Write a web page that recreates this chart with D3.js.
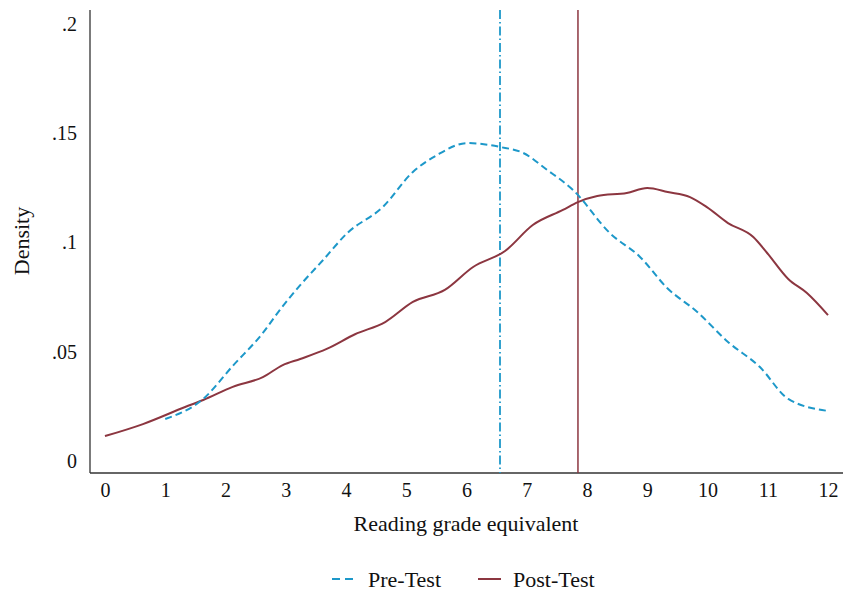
<!DOCTYPE html>
<html>
<head>
<meta charset="utf-8">
<script src="https://cdn.jsdelivr.net/npm/d3@7"></script>
<style>
  html, body { margin: 0; padding: 0; background: #fff; }
  svg { display: block; }
  svg text { font-family: "Liberation Serif", "Tinos", "Times New Roman", "Nimbus Roman", "DejaVu Serif", serif; }
</style>
</head>
<body>
<svg id="chart" width="843" height="595"></svg>
<script>
// ---- data ----
const preX = [1.00, 1.63, 2.12, 2.62, 2.90, 3.24, 3.62, 4.02, 4.61, 5.11, 5.51, 6.01, 6.56, 6.94, 7.34, 7.77, 8.38, 8.88, 9.33, 9.83, 10.34, 10.87, 11.34, 12.00];
const preY = [0.0192, 0.0284, 0.0435, 0.0586, 0.0691, 0.0805, 0.0920, 0.1043, 0.1162, 0.1323, 0.1400, 0.1455, 0.1437, 0.1410, 0.1332, 0.1240, 0.1043, 0.0934, 0.0792, 0.0682, 0.0545, 0.0430, 0.0284, 0.0229];
const postX = [0.00, 0.63, 1.33, 1.63, 2.12, 2.62, 2.95, 3.24, 3.68, 4.15, 4.65, 5.11, 5.64, 6.11, 6.64, 7.10, 7.60, 7.85, 8.17, 8.66, 9.00, 9.34, 9.71, 9.99, 10.34, 10.76, 10.99, 11.34, 11.65, 12.00];
const postY = [0.0114, 0.0169, 0.0247, 0.0279, 0.0339, 0.0384, 0.0439, 0.0467, 0.0513, 0.0580, 0.0636, 0.0728, 0.0783, 0.0888, 0.0961, 0.1080, 0.1149, 0.1185, 0.1213, 0.1227, 0.1249, 0.1231, 0.1208, 0.1162, 0.1089, 0.1025, 0.0952, 0.0833, 0.0769, 0.0668];
const preMean = 6.556;
const postMean = 7.85;
const xTicks = [0,1,2,3,4,5,6,7,8,9,10,11,12];
const yTicks = [0, 0.05, 0.1, 0.15, 0.2];
const yTickLabels = ["0", ".05", ".1", ".15", ".2"];
const seriesNames = ["Pre-Test", "Post-Test"];
const seriesColors = ["#1d98c9", "#8c3640"];

// ---- layout ----
const svg = d3.select("#chart");
const x = d3.scaleLinear().domain([0, 12]).range([105, 828]);
const y = d3.scaleLinear().domain([0, 0.2]).range([461, 24]);
const axisLeftX = 90, axisTop = 10, axisBottom = 473, axisRight = 843;

// axis lines
svg.append("line").attr("x1", axisLeftX).attr("x2", axisLeftX).attr("y1", axisTop).attr("y2", axisBottom)
  .attr("stroke", "#333").attr("stroke-width", 1.3);
svg.append("line").attr("x1", axisLeftX).attr("x2", axisRight).attr("y1", axisBottom).attr("y2", axisBottom)
  .attr("stroke", "#333").attr("stroke-width", 1.3);

// y axis
const yAxis = d3.axisLeft(y).tickValues(yTicks).tickSize(0).tickPadding(0)
  .tickFormat((d, i) => yTickLabels[i]);
const gy = svg.append("g").attr("transform", `translate(77,0)`).call(yAxis);
gy.attr("font-family", null);
gy.select(".domain").remove();
gy.selectAll("text").attr("font-size", 20).attr("fill", "#111");

// x axis
const xAxis = d3.axisBottom(x).tickValues(xTicks).tickSize(0).tickPadding(0).tickFormat(d3.format("d"));
const gx = svg.append("g").attr("transform", `translate(0,${axisBottom + 10})`).call(xAxis);
gx.attr("font-family", null);
gx.select(".domain").remove();
gx.selectAll("text").attr("font-size", 20).attr("fill", "#111");

// titles
svg.append("text").attr("x", 466).attr("y", 531).attr("text-anchor", "middle")
  .attr("font-size", 22).attr("fill", "#111").text("Reading grade equivalent");
svg.append("text").attr("transform", "translate(29,241) rotate(-90)").attr("text-anchor", "middle")
  .attr("font-size", 22).attr("fill", "#111").text("Density");

// mean lines
svg.append("line").attr("x1", x(preMean)).attr("x2", x(preMean)).attr("y1", axisTop).attr("y2", axisBottom)
  .attr("stroke", seriesColors[0]).attr("stroke-width", 1.8).attr("stroke-dasharray", "9,3,1.5,3");
svg.append("line").attr("x1", x(postMean)).attr("x2", x(postMean)).attr("y1", axisTop).attr("y2", axisBottom)
  .attr("stroke", seriesColors[1]).attr("stroke-width", 1.5);

// curves
const line = d3.line().x(d => x(d[0])).y(d => y(d[1])).curve(d3.curveMonotoneX);
const preData = preX.map((v, i) => [v, preY[i]]);
const postData = postX.map((v, i) => [v, postY[i]]);
svg.append("path").datum(postData).attr("d", line).attr("fill", "none")
  .attr("stroke", seriesColors[1]).attr("stroke-width", 2);
svg.append("path").datum(preData).attr("d", line).attr("fill", "none")
  .attr("stroke", seriesColors[0]).attr("stroke-width", 2).attr("stroke-dasharray", "7,4");

// legend
const legY = 579;
const leg = [
  {x1: 332, x2: 355, tx: 368, dash: "8,5", c: seriesColors[0], name: seriesNames[0]},
  {x1: 478, x2: 501, tx: 513, dash: null, c: seriesColors[1], name: seriesNames[1]}
];
leg.forEach(l => {
  svg.append("line").attr("x1", l.x1).attr("x2", l.x2).attr("y1", legY).attr("y2", legY)
    .attr("stroke", l.c).attr("stroke-width", 2).attr("stroke-dasharray", l.dash);
  svg.append("text").attr("x", l.tx).attr("y", legY + 8).attr("font-size", 22).attr("fill", "#111").text(l.name);
});
</script>
</body>
</html>
